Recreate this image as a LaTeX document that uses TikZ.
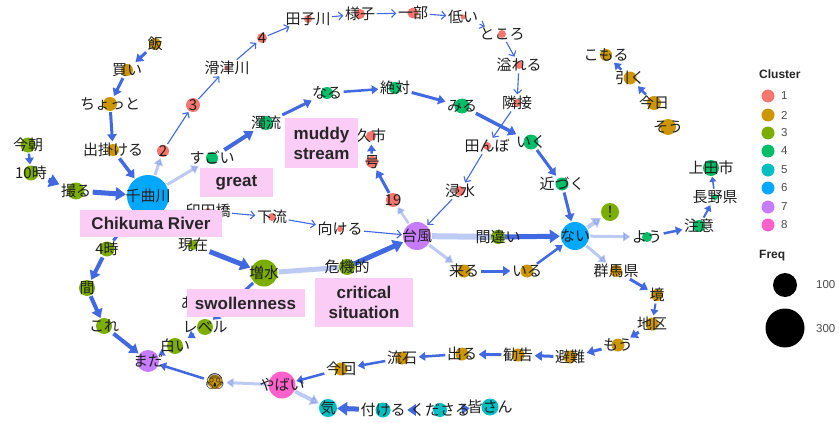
\documentclass[tikz,border=0pt]{standalone}
\usepackage{fontspec}
\setmainfont{Liberation Sans}
\newfontfamily\jp{Noto Sans CJK JP}
\newfontfamily\emo{Noto Emoji}
\usetikzlibrary{arrows.meta}
\pgfdeclarelayer{back}\pgfdeclarelayer{bg}\pgfdeclarelayer{mid}\pgfdeclarelayer{front}
\pgfsetlayers{back,bg,mid,main,front}
\definecolor{eblue}{RGB}{65,105,225}
\definecolor{cA}{HTML}{F8766D}
\definecolor{cB}{HTML}{CD9600}
\definecolor{cC}{HTML}{7CAE00}
\definecolor{cD}{HTML}{00BE67}
\definecolor{cE}{HTML}{00BFC4}
\definecolor{cF}{HTML}{00A9FF}
\definecolor{cG}{HTML}{C77CFF}
\definecolor{cH}{HTML}{FF61CC}
\definecolor{pinkbox}{RGB}{250,204,246}
\tikzset{
  lab/.style={font=\jp\fontsize{15}{15}\selectfont, text=black!88, inner sep=0.5pt},
  dot/.style={circle, inner sep=0pt, draw=none},
  ed/.style={draw=eblue, -{Triangle[length=3pt 1.4, width=4pt 1.8]}, shorten >=1pt, shorten <=1pt},
  thn/.style={draw=eblue, line width=1.1pt, -{Straight Barb[length=4pt, width=8pt]}, shorten >=1pt, shorten <=1pt},
  lite/.style={opacity=0.35},
  pbox/.style={fill=pinkbox, font=\bfseries\fontsize{17}{20}\selectfont, text=black!85, align=center, inner sep=0pt},
  legt/.style={font=\bfseries\fontsize{12}{12}\selectfont, text=black!85, anchor=west, inner sep=0pt},
  legn/.style={font=\fontsize{11.5}{12}\selectfont, text=black!70, anchor=west, inner sep=0pt}
}
\newcommand\mkv[6]{%
  \begin{pgfonlayer}{mid}\node[dot, fill=#4, minimum size=#5pt] (c-#1) at (#2,#3) {};\end{pgfonlayer}%
  \node[lab] (#1) at (#2,#3) {#6};}
\begin{document}
\begin{tikzpicture}[x=1pt,y=-1pt]
\useasboundingbox (0,0) rectangle (839,423);
\begin{pgfonlayer}{back}
\fill[white] (0,0) rectangle (839,423);
\end{pgfonlayer}
% vertices
\mkv{meshi}{155}{44}{cB}{12}{飯}
\mkv{kai}{127}{70}{cB}{12}{買い}
\mkv{chotto}{110}{104}{cB}{14}{ちょっと}
\mkv{dekakeru}{113}{150}{cB}{12}{出掛ける}
\mkv{kesa}{28}{145}{cC}{15}{今朝}
\mkv{juji}{31}{173}{cC}{15}{10時}
\mkv{toru}{76}{191}{cC}{17}{撮る}
\mkv{sen}{148}{196}{cF}{42}{千曲川}
\mkv{nii}{163}{151}{cA}{12}{2}
\mkv{san}{193}{105}{cA}{14}{3}
\mkv{namezu}{227}{68}{cA}{5}{滑津川}
\mkv{yon}{262}{38}{cA}{10}{4}
\mkv{tago}{308}{19}{cA}{8}{田子川}
\mkv{yosu}{360}{14}{cA}{10}{様子}
\mkv{ichibu}{413}{13}{cA}{11}{一部}
\mkv{hikui}{463}{17}{cA}{5}{低い}
\mkv{tokoro}{502}{34}{cA}{8}{ところ}
\mkv{afureru}{519}{65}{cA}{8}{溢れる}
\mkv{rinsetsu}{517}{103}{cA}{8}{隣接}
\mkv{tanbo}{487}{146}{cA}{8}{田んぼ}
\mkv{shinsui}{460}{191}{cA}{10}{浸水}
\mkv{iku}{531}{142}{cD}{15}{いく}
\mkv{chikazuku}{562}{184}{cD}{13}{近づく}
\mkv{nai}{575}{236}{cF}{28}{ない}
\mkv{excl}{610}{212}{cC}{18}{！}
\mkv{you}{647}{237}{cD}{10}{よう}
\mkv{chui}{699}{226}{cD}{12}{注意}
\mkv{nagano}{715}{197}{cD}{6}{長野県}
\mkv{ueda}{711}{168}{cD}{16}{上田市}
\mkv{gunma}{616}{271}{cB}{12}{群馬県}
\mkv{sakai}{657}{295}{cB}{12}{境}
\mkv{chiku}{652}{324}{cB}{13}{地区}
\mkv{mou}{618}{345}{cB}{13}{もう}
\mkv{hinan}{570}{357}{cB}{13}{避難}
\mkv{kankoku}{518}{355}{cB}{13}{勧告}
\mkv{deru}{462}{354}{cB}{13}{出る}
\mkv{sasuga}{402}{358}{cB}{13}{流石}
\mkv{konkai}{341}{369}{cB}{13}{今回}
\mkv{yabai}{282}{385}{cH}{27}{やばい}
\mkv{ki}{328}{408}{cE}{18}{気}
\mkv{tsukeru}{383}{410}{cE}{15}{付ける}
\mkv{kudasaru}{440}{410}{cE}{14}{くださる}
\mkv{minasan}{490}{407}{cE}{17}{皆さん}
\mkv{scream}{215}{382}{cB}{14}{\emo 😱}
\mkv{mada}{148}{361}{cG}{22}{まだ}
\mkv{shiroi}{175}{346}{cC}{16}{白い}
\mkv{level}{205}{327}{cC}{16}{レベル}
\mkv{aa}{188}{303}{cC}{4}{あ}
\mkv{zousui}{264}{273}{cC}{27}{増水}
\mkv{genzai}{193}{245}{cC}{10}{現在}
\mkv{yoji}{107}{249}{cC}{15}{4時}
\mkv{aida}{87}{288}{cC}{16}{間}
\mkv{kore}{104}{326}{cC}{16}{これ}
\mkv{inden}{208}{211}{cA}{6}{印田橋}
\mkv{karyu}{272}{217}{cA}{8}{下流}
\mkv{mukeru}{340}{229}{cA}{6}{向ける}
\mkv{taifu}{417}{236}{cG}{28}{台風}
\mkv{machigai}{498}{237}{cC}{14}{間違い}
\mkv{kuru}{464}{271}{cB}{13}{来る}
\mkv{iru}{527}{271}{cB}{13}{いる}
\mkv{kiki}{347}{267}{cC}{16}{危機的}
\mkv{jukyu}{393}{200}{cA}{14}{19}
\mkv{go}{372}{162}{cA}{12}{号}
\mkv{saku}{371}{136}{cA}{10}{久市}
\mkv{naru}{327}{93}{cD}{12}{なる}
\mkv{zettai}{395}{88}{cD}{12}{絶対}
\mkv{miru}{462}{106}{cD}{15}{みる}
\mkv{dakuryu}{266}{123}{cD}{14}{濁流}
\mkv{sugoi}{212}{158}{cD}{12}{すごい}
\mkv{komoru}{606}{55}{cB}{12}{こもる}
\mkv{hiku}{630}{78}{cB}{13}{引く}
\mkv{kyou}{654}{103}{cB}{14}{今日}
\mkv{sou}{668}{127}{cB}{16}{そう}
% edges
\begin{pgfonlayer}{bg}
\draw[ed,line width=3pt] (meshi) -- (kai);
\draw[ed,line width=3pt] (kai) -- (chotto);
\draw[ed,line width=3pt] (chotto) -- (dekakeru);
\draw[ed,line width=3.5pt] (dekakeru) -- (c-sen);
\draw[ed,line width=2.5pt] (kesa) -- (juji);
\draw[ed,line width=5pt] (juji) -- (toru);
\draw[ed,line width=5pt] (toru) -- (c-sen);
\draw[ed,line width=3pt] (yoji) -- (c-sen);
\draw[ed,line width=3pt,lite] (c-sen) -- (nii);
\draw[ed,line width=3pt,lite] (c-sen) -- (sugoi);
\draw[ed,line width=4pt] (sugoi) -- (dakuryu);
\draw[ed,line width=3pt] (dakuryu) -- (naru);
\draw[ed,line width=2.5pt] (naru) -- (zettai);
\draw[ed,line width=3pt] (zettai) -- (miru);
\draw[ed,line width=3.5pt] (miru) -- (iku);
\draw[ed,line width=3pt] (iku) -- (chikazuku);
\draw[ed,line width=3pt] (chikazuku) -- (c-nai);
\draw[line width=6pt,draw=eblue,lite,shorten <=1pt] (c-taifu) -- (machigai.center);
\draw[ed,line width=5pt] (machigai.center) -- (c-nai);
\draw[ed,line width=3pt,lite] (c-taifu) -- (kuru);
\draw[ed,line width=3pt] (kuru) -- (iru);
\draw[ed,line width=2.5pt] (iru) -- (c-nai);
\draw[ed,line width=4pt,lite] (c-nai) -- (excl);
\draw[ed,line width=3pt,lite] (c-nai) -- (you);
\draw[ed,line width=3pt,lite] (c-nai) -- (gunma);
\draw[ed,line width=2.5pt] (you) -- (chui);
\draw[ed,line width=2pt] (chui) -- (nagano);
\draw[ed,line width=1.5pt] (nagano) -- (ueda);
\draw[ed,line width=3pt] (gunma) -- (sakai);
\draw[ed,line width=2pt] (sakai) -- (chiku);
\draw[ed,line width=3pt] (chiku) -- (mou);
\draw[ed,line width=3pt] (mou) -- (hinan);
\draw[ed,line width=3pt] (hinan) -- (kankoku);
\draw[ed,line width=3pt] (kankoku) -- (deru);
\draw[ed,line width=2.5pt] (deru) -- (sasuga);
\draw[ed,line width=2.5pt] (sasuga) -- (konkai);
\draw[ed,line width=2.5pt] (konkai) -- (c-yabai);
\draw[ed,line width=3pt,lite] (c-yabai) -- (scream);
\draw[ed,line width=4pt,lite] (c-yabai) -- (ki);
\draw[ed,line width=2.5pt] (scream) -- (c-mada);
\draw[ed,line width=3.5pt] (minasan) -- (kudasaru);
\draw[ed,line width=4pt] (kudasaru) -- (tsukeru);
\draw[ed,line width=5pt] (tsukeru) -- (ki);
\draw[ed,line width=5pt] (genzai) -- (c-zousui);
\draw[line width=5pt,draw=eblue,lite,shorten <=1pt] (c-zousui) -- (kiki.center);
\draw[ed,line width=5pt] (kiki.center) -- (c-taifu);
\draw[ed,line width=3pt] (c-zousui) -- (level);
\draw[ed,line width=2.5pt] (level) -- (shiroi);
\draw[ed,line width=2pt] (shiroi) -- (c-mada);
\draw[ed,line width=4pt] (yoji) -- (aida);
\draw[ed,line width=4pt] (aida) -- (kore);
\draw[ed,line width=4pt] (kore) -- (c-mada);
\draw[ed,line width=2.5pt,lite] (c-taifu) -- (jukyu);
\draw[ed,line width=3pt] (jukyu) -- (go);
\draw[ed,line width=2.5pt] (go) -- (saku);
\draw[ed,line width=2.5pt] (kyou) -- (hiku);
\draw[ed,line width=2.5pt] (hiku) -- (komoru);
\draw[thn] (nii) -- (san);
\draw[thn] (san) -- (namezu);
\draw[thn] (namezu) -- (yon);
\draw[thn] (yon) -- (tago);
\draw[thn] (tago) -- (yosu);
\draw[thn] (yosu) -- (ichibu);
\draw[thn] (ichibu) -- (hikui);
\draw[thn] (hikui) -- (tokoro);
\draw[thn] (tokoro) -- (afureru);
\draw[thn] (afureru) -- (rinsetsu);
\draw[thn] (rinsetsu) -- (tanbo);
\draw[thn] (tanbo) -- (shinsui);
\draw[thn] (shinsui) -- (c-taifu);
\draw[thn] (inden) -- (karyu);
\draw[thn] (karyu) -- (mukeru);
\draw[thn] (mukeru) -- (c-taifu);
\end{pgfonlayer}
% annotation boxes
\begin{pgfonlayer}{front}
\node[pbox, minimum width=142pt, minimum height=27pt] (b-chikuma) at (151,223.5) {Chikuma River};
\node[pbox, minimum width=73pt, minimum height=29pt] (b-great) at (236.5,182.5) {great};
\node[pbox, minimum width=73pt, minimum height=50pt] (b-muddy) at (321.5,143) {muddy\\stream};
\node[pbox, minimum width=118pt, minimum height=28pt] (b-swollen) at (245.5,303) {swollenness};
\node[pbox, minimum width=98pt, minimum height=49pt] (b-critical) at (364,302.5) {critical\\situation};
\end{pgfonlayer}
% legend
\node[legt] (lg-title) at (759,74) {Cluster};
\foreach \i/\c/\yy in {1/cA/96,2/cB/115,3/cC/133,4/cD/151,5/cE/170,6/cF/188,7/cG/207,8/cH/225}{
  \node[dot, fill=\c, minimum size=13pt] (lg-c\i) at (768,\yy) {};
  \node[legn] (lg-n\i) at (781,\yy) {\i};
}
\node[legt] (lg-freq) at (759,256) {Freq};
\node[dot, fill=black, minimum size=24pt] (lg-f1) at (785,285) {};
\node[dot, fill=black, minimum size=39pt] (lg-f2) at (785,328) {};
\node[legn] (lg-l1) at (816,285) {100};
\node[legn] (lg-l2) at (816,329) {300};
\end{tikzpicture}
\end{document}
